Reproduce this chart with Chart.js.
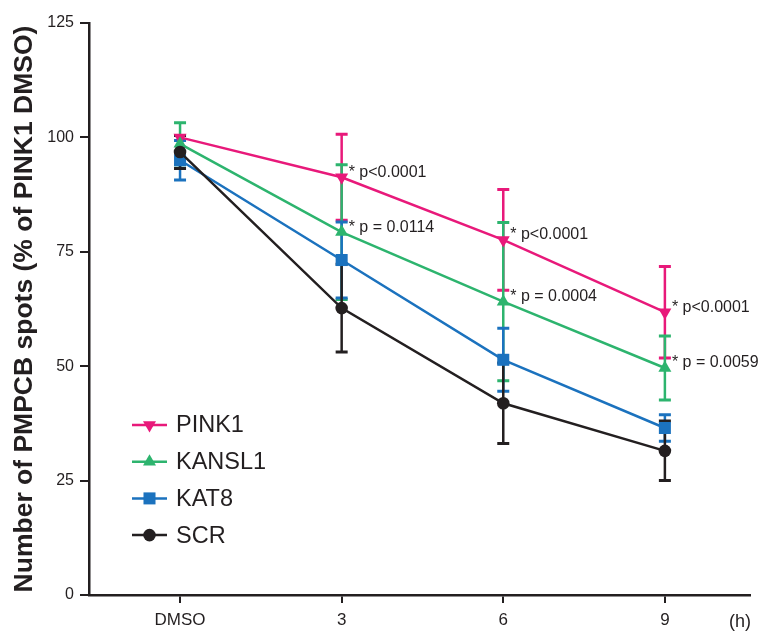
<!DOCTYPE html>
<html>
<head>
<meta charset="utf-8">
<script src="https://cdn.jsdelivr.net/npm/chart.js@4"></script>
<style>
html, body { margin: 0; padding: 0; background: #fff; }
</style>
</head>
<body>
<canvas id="chart" width="761" height="634"></canvas>
<script>
// time points (DMSO is treated as 0 h)
var hours = [0, 3, 6, 9];
var timeLabels = ['DMSO', '3', '6', '9'];
var yTicks = [0, 25, 50, 75, 100, 125];

var seriesNames = ['PINK1', 'KANSL1', 'KAT8', 'SCR'];
var pink1 = [100, 91.3, 77.6, 61.8];
var pink1Err = [0, 9.4, 11, 10];
var kansl1 = [98.6, 79.3, 64.1, 49.6];
var kansl1Err = [4.6, 14.7, 17.3, 7];
var kat8 = [95, 73.2, 51.4, 36.5];
var kat8Err = [4.3, 8.3, 6.9, 2.9];
var scr = [96.8, 62.7, 41.9, 31.5];
var scrErr = [3.6, 9.6, 8.8, 6.5];

var pink1P = ['', '* p<0.0001', '* p<0.0001', '* p<0.0001'];
var kansl1P = ['', '* p = 0.0114', '* p = 0.0004', '* p = 0.0059'];

var FONT = '"Liberation Sans", Arial, Helvetica, sans-serif';
var INK = '#231f20';

function toPoints(vals) {
    return hours.map(function (h, i) { return { x: h, y: vals[i] }; });
}

function makeSet(name, vals, errs, notes, color, style, rot, radius, order) {
    return {
        label: name,
        data: toPoints(vals),
        errors: errs,
        notes: notes,
        borderColor: color,
        backgroundColor: color,
        borderWidth: 2.5,
        pointStyle: style,
        pointRotation: rot,
        pointRadius: radius,
        pointBorderWidth: 0,
        pointBackgroundColor: color,
        tension: 0,
        order: order
    };
}

var datasets = [
    makeSet(seriesNames[0], pink1, pink1Err, pink1P, '#e8197a', 'triangle', 180, 7.5, 4),
    makeSet(seriesNames[1], kansl1, kansl1Err, kansl1P, '#2db46e', 'triangle', 0, 7.5, 3),
    makeSet(seriesNames[2], kat8, kat8Err, null, '#1b72be', 'rect', 0, 8.5, 2),
    makeSet(seriesNames[3], scr, scrErr, null, INK, 'circle', 0, 6.3, 1)
];

// vertical error bars with caps, drawn under the lines/markers
var errorBars = {
    id: 'errorBars',
    beforeDatasetsDraw: function (chart) {
        var ctx = chart.ctx;
        var xs = chart.scales.x, ys = chart.scales.y;
        ctx.save();
        chart.data.datasets.forEach(function (ds) {
            ctx.strokeStyle = ds.borderColor;
            ds.data.forEach(function (p, i) {
                var e = ds.errors[i];
                if (!e) return;
                var x = xs.getPixelForValue(p.x);
                var top = ys.getPixelForValue(p.y + e);
                var bot = ys.getPixelForValue(p.y - e);
                ctx.lineWidth = 2.5;
                ctx.beginPath();
                ctx.moveTo(x, top); ctx.lineTo(x, bot);
                ctx.stroke();
                ctx.lineWidth = 3;
                ctx.beginPath();
                ctx.moveTo(x - 6, top); ctx.lineTo(x + 6, top);
                ctx.moveTo(x - 6, bot); ctx.lineTo(x + 6, bot);
                ctx.stroke();
            });
        });
        ctx.restore();
    }
};

// p-value notes, legend inside the plot, and the "(h)" unit label
var extras = {
    id: 'extras',
    afterDraw: function (chart) {
        var ctx = chart.ctx;
        var xs = chart.scales.x, ys = chart.scales.y;
        var area = chart.chartArea;
        ctx.save();
        ctx.fillStyle = INK;
        ctx.textBaseline = 'middle';
        ctx.font = '16px ' + FONT;
        chart.data.datasets.forEach(function (ds) {
            if (!ds.notes) return;
            ds.data.forEach(function (p, i) {
                if (!ds.notes[i]) return;
                ctx.fillText(ds.notes[i], xs.getPixelForValue(p.x) + 7, ys.getPixelForValue(p.y) - 5);
            });
        });

        // legend
        ctx.font = '23.5px ' + FONT;
        chart.data.datasets.forEach(function (ds, i) {
            var y = area.top + 402 + i * 36.7;
            var x0 = area.left + 43;
            ctx.strokeStyle = ds.borderColor;
            ctx.lineWidth = 2.5;
            ctx.beginPath();
            ctx.moveTo(x0, y); ctx.lineTo(x0 + 35, y);
            ctx.stroke();
            ctx.fillStyle = ds.borderColor;
            Chart.helpers.drawPoint(ctx, { pointStyle: ds.pointStyle, radius: ds.pointRadius, rotation: ds.pointRotation, borderWidth: 0 }, x0 + 17.5, y);
            ctx.fillStyle = INK;
            ctx.fillText(ds.label, x0 + 44, y + 1);
        });

        ctx.font = '18px ' + FONT;
        ctx.textAlign = 'center';
        ctx.fillText('(h)', area.right - 10, area.bottom + 27);
        ctx.restore();
    }
};

var chart = new Chart(document.getElementById('chart').getContext('2d'), {
    type: 'line',
    data: { datasets: datasets },
    options: {
        responsive: false,
        animation: false,
        layout: { padding: { top: 23, right: 11, left: 0, bottom: 0 } },
        plugins: { legend: { display: false }, tooltip: { enabled: false } },
        scales: {
            x: {
                type: 'linear',
                min: -1.69,
                max: 10.58,
                afterBuildTicks: function (s) { s.ticks = hours.map(function (v) { return { value: v }; }); },
                afterFit: function (s) { s.height = 39; },
                ticks: {
                    callback: function (v) { return timeLabels[hours.indexOf(v)]; },
                    font: { size: 17, family: FONT },
                    color: INK,
                    padding: 7
                },
                grid: { drawOnChartArea: false, drawTicks: true, tickLength: 8, color: INK, lineWidth: 2 },
                border: { color: INK, width: 2.5 }
            },
            y: {
                min: 0,
                max: 125,
                afterBuildTicks: function (s) { s.ticks = yTicks.map(function (v) { return { value: v }; }); },
                afterFit: function (s) { s.width = 89; },
                ticks: { font: { size: 16, family: FONT }, color: INK, padding: 6 },
                grid: { drawOnChartArea: false, drawTicks: true, tickLength: 9, color: INK, lineWidth: 2 },
                border: { color: INK, width: 2.5 },
                title: {
                    display: true,
                    text: 'Number of PMPCB spots (% of PINK1 DMSO)',
                    font: { size: 26.5, weight: 'bold', family: FONT },
                    color: INK,
                    padding: { top: 9, bottom: 0 }
                }
            }
        }
    },
    plugins: [errorBars, extras]
});
</script>
</body>
</html>
